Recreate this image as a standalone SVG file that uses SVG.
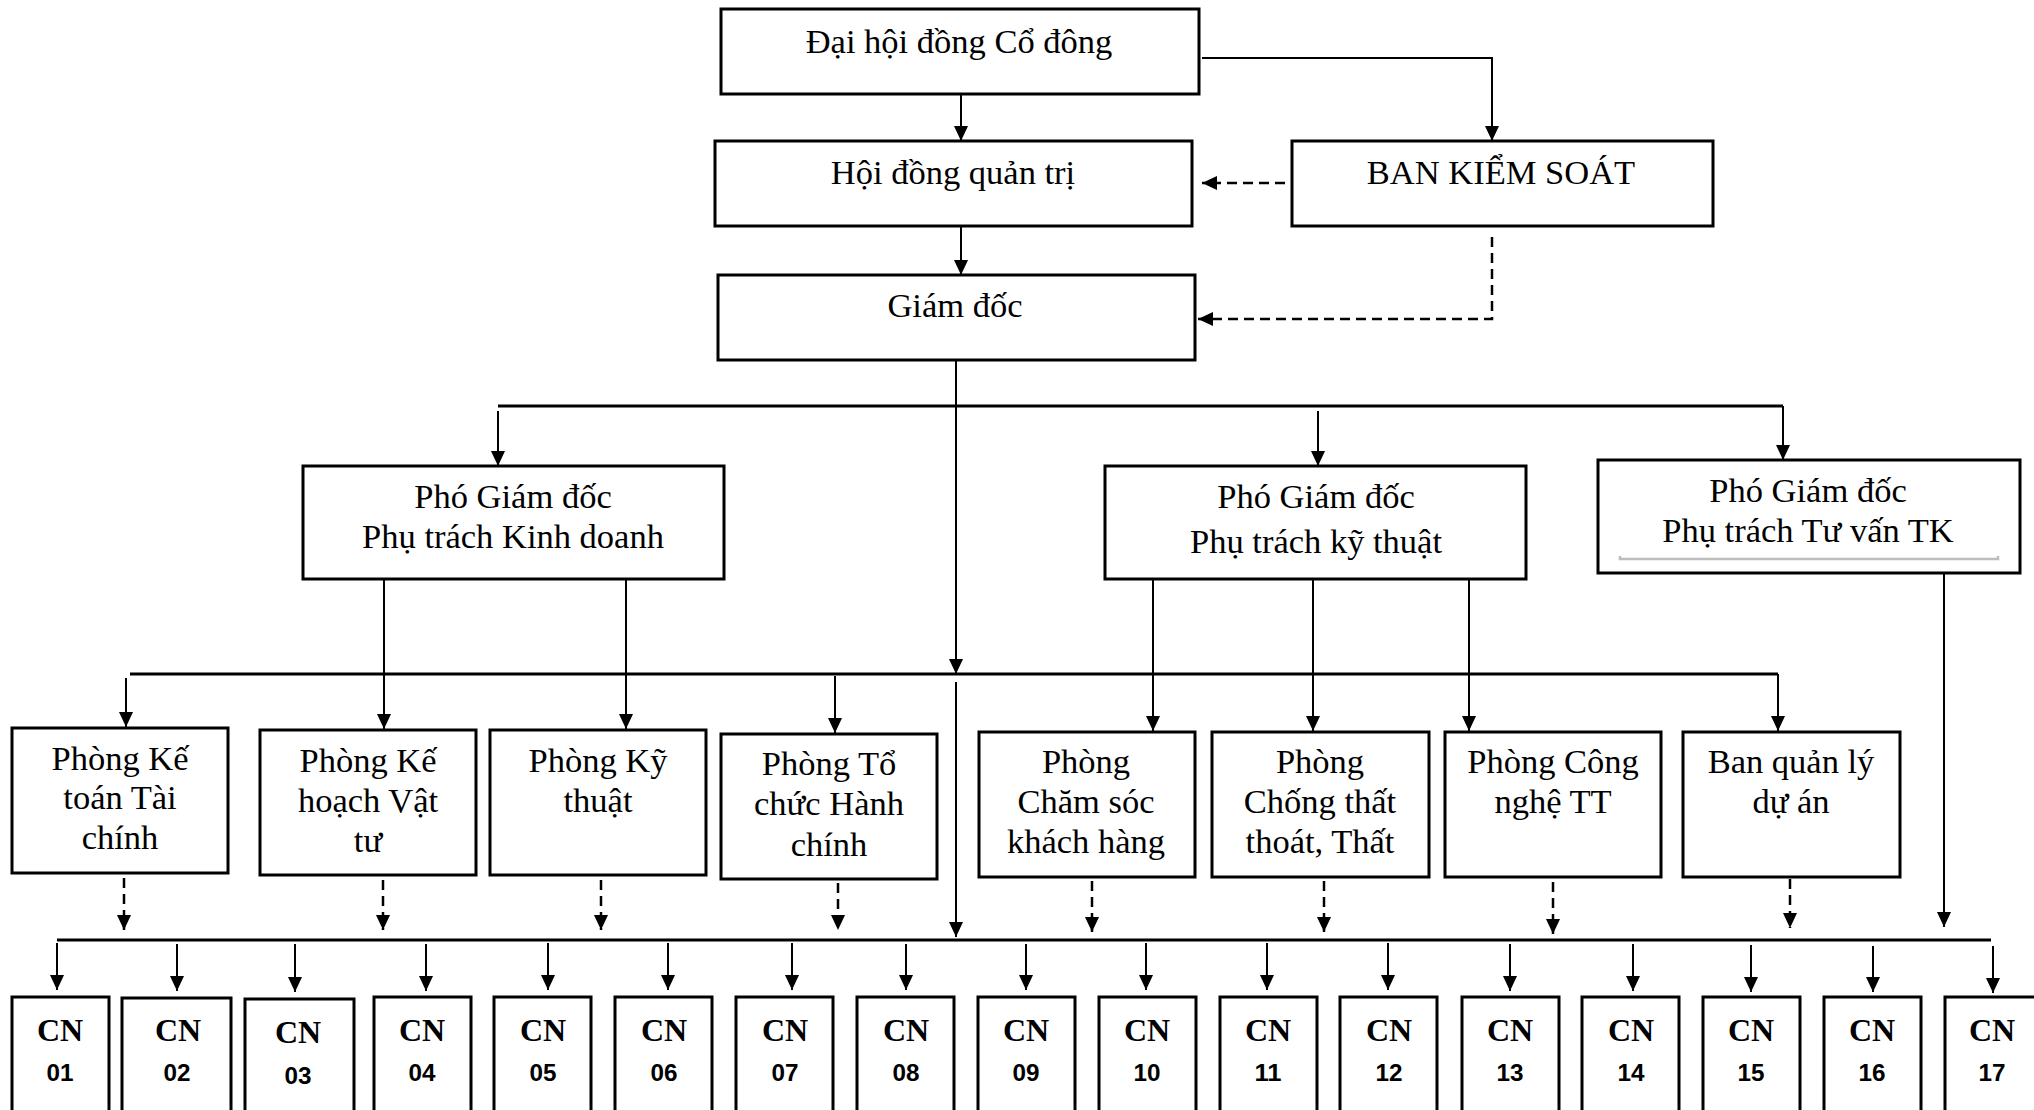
<svg xmlns="http://www.w3.org/2000/svg" width="2034" height="1110" viewBox="0 0 2034 1110">
<defs>
<style>
.box{fill:#fff;stroke:#000;stroke-width:3}
.t{font-family:"Liberation Serif","Times New Roman",serif;font-size:34.5px;text-anchor:middle;fill:#000}
.cn{font-family:"Liberation Serif","Times New Roman",serif;font-size:32px;font-weight:bold;text-anchor:middle;fill:#000}
.num{font-family:"Liberation Sans",Arial,sans-serif;font-size:24px;font-weight:bold;text-anchor:middle;fill:#000}
.ln{fill:none;stroke:#000;stroke-width:2}
.bus{fill:none;stroke:#000;stroke-width:3}
.ar{fill:none;stroke:#000;stroke-width:2;marker-end:url(#ah)}
.da{fill:none;stroke:#000;stroke-width:2.5;stroke-dasharray:10 6;marker-end:url(#ah)}
</style>
<marker id="ah" markerUnits="userSpaceOnUse" markerWidth="16" markerHeight="14" refX="15" refY="7" orient="auto">
<path d="M0,0 L15,7 L0,14 z" fill="#000"/>
</marker>
</defs>
<rect width="2034" height="1110" fill="#fff"/>

<g id="connectors">
<path class="ar" d="M961,94 V141"/>
<path class="ar" d="M1202,58 H1492 V141"/>
<path class="da" d="M1285,183 H1202"/>
<path class="da" d="M1492,237 V319 H1198"/>
<path class="ar" d="M961,226 V275"/>
<path class="ar" d="M956,360 V674"/>
<path class="ar" d="M956,682 V937"/>
<path class="bus" d="M498,406 H1783"/>
<path class="ar" d="M1783,406 V460"/>
<path class="ar" d="M498,411 V466"/>
<path class="ar" d="M1318,411 V466"/>
<path class="bus" d="M130,674 H1778"/>
<path class="ar" d="M1778,674 V731"/>
<path class="ar" d="M126,678 V727"/>
<path class="ar" d="M835,676 V733"/>
<path class="ar" d="M384,579 V729"/>
<path class="ar" d="M626,579 V729"/>
<path class="ar" d="M1153,579 V731"/>
<path class="ar" d="M1313,579 V731"/>
<path class="ar" d="M1469,579 V731"/>
<path class="ar" d="M1944,573 V927"/>
<path class="da" d="M124,878 V930"/>
<path class="da" d="M383,880 V930"/>
<path class="da" d="M601,880 V930"/>
<path class="da" d="M838,883 V930"/>
<path class="da" d="M1092,881 V932"/>
<path class="da" d="M1324,881 V932"/>
<path class="da" d="M1553,882 V934"/>
<path class="da" d="M1790,879 V928"/>
<path class="bus" d="M57,940 H1991"/>
<path class="ar" d="M57,943 V990"/>
<path class="ar" d="M177,944 V991"/>
<path class="ar" d="M295,944 V992"/>
<path class="ar" d="M426,944 V991"/>
<path class="ar" d="M548,943 V990"/>
<path class="ar" d="M668,943 V990"/>
<path class="ar" d="M792,943 V990"/>
<path class="ar" d="M906,944 V990"/>
<path class="ar" d="M1026,944 V990"/>
<path class="ar" d="M1146,943 V990"/>
<path class="ar" d="M1267,943 V990"/>
<path class="ar" d="M1388,943 V990"/>
<path class="ar" d="M1510,944 V991"/>
<path class="ar" d="M1633,944 V991"/>
<path class="ar" d="M1751,945 V992"/>
<path class="ar" d="M1873,946 V992"/>
<path class="ar" d="M1993,946 V993"/>
</g>

<g id="dhdcd"><rect class="box" x="721" y="9" width="478" height="85"/><text class="t" x="959" y="53">Đại hội đồng Cổ đông</text></g>
<g id="hdqt"><rect class="box" x="715" y="141" width="477" height="85"/><text class="t" x="953" y="184">Hội đồng quản trị</text></g>
<g id="bks"><rect class="box" x="1292" y="141" width="421" height="85"/><text class="t" x="1501" y="184">BAN KIỂM SOÁT</text></g>
<g id="gd"><rect class="box" x="718" y="275" width="477" height="85"/><text class="t" x="955" y="317">Giám đốc</text></g>

<g id="pgd-kd"><rect class="box" x="303" y="466" width="421" height="113"/><text class="t" x="513" y="508">Phó Giám đốc</text><text class="t" x="513" y="548">Phụ trách Kinh doanh</text></g>
<g id="pgd-kt"><rect class="box" x="1105" y="466" width="421" height="113"/><text class="t" x="1316" y="508">Phó Giám đốc</text><text class="t" x="1316" y="553">Phụ trách kỹ thuật</text></g>
<g id="pgd-tvtk"><rect class="box" x="1598" y="460" width="422" height="113"/><text class="t" x="1808" y="502">Phó Giám đốc</text><text class="t" x="1808" y="542">Phụ trách Tư vấn TK</text><path d="M1620,556 V559 H1998 V556" fill="none" stroke="#bdbdbd" stroke-width="2.5"/></g>

<g id="p-kttc"><rect class="box" x="12" y="728" width="216" height="145"/><text class="t" x="120" y="770">Phòng Kế</text><text class="t" x="120" y="809">toán Tài</text><text class="t" x="120" y="849">chính</text></g>
<g id="p-khvt"><rect class="box" x="260" y="730" width="216" height="145"/><text class="t" x="368" y="772">Phòng Kế</text><text class="t" x="368" y="812">hoạch Vật</text><text class="t" x="368" y="852">tư</text></g>
<g id="p-kythuat"><rect class="box" x="490" y="730" width="216" height="145"/><text class="t" x="598" y="772">Phòng Kỹ</text><text class="t" x="598" y="812">thuật</text></g>
<g id="p-tchc"><rect class="box" x="721" y="734" width="216" height="145"/><text class="t" x="829" y="775">Phòng Tổ</text><text class="t" x="829" y="815">chức Hành</text><text class="t" x="829" y="856">chính</text></g>
<g id="p-cskh"><rect class="box" x="979" y="732" width="216" height="145"/><text class="t" x="1086" y="773">Phòng</text><text class="t" x="1086" y="813">Chăm sóc</text><text class="t" x="1086" y="853">khách hàng</text></g>
<g id="p-ctt"><rect class="box" x="1212" y="732" width="217" height="145"/><text class="t" x="1320" y="773">Phòng</text><text class="t" x="1320" y="813">Chống thất</text><text class="t" x="1320" y="853">thoát, Thất</text></g>
<g id="p-cntt"><rect class="box" x="1445" y="732" width="216" height="145"/><text class="t" x="1553" y="773">Phòng Công</text><text class="t" x="1553" y="813">nghệ TT</text></g>
<g id="p-qlda"><rect class="box" x="1683" y="732" width="217" height="145"/><text class="t" x="1791" y="773">Ban quản lý</text><text class="t" x="1791" y="813">dự án</text></g>

<g id="cn01"><rect class="box" x="12" y="997" width="97" height="130"/><text class="cn" x="60" y="1041">CN</text><text class="num" x="60" y="1081" textLength="27" lengthAdjust="spacingAndGlyphs">01</text></g>
<g id="cn02"><rect class="box" x="122" y="998" width="109" height="130"/><text class="cn" x="178" y="1041">CN</text><text class="num" x="177" y="1081" textLength="27" lengthAdjust="spacingAndGlyphs">02</text></g>
<g id="cn03"><rect class="box" x="245" y="999" width="109" height="130"/><text class="cn" x="298" y="1043">CN</text><text class="num" x="298" y="1084" textLength="27" lengthAdjust="spacingAndGlyphs">03</text></g>
<g id="cn04"><rect class="box" x="374" y="997" width="97" height="130"/><text class="cn" x="422" y="1041">CN</text><text class="num" x="422" y="1081" textLength="27" lengthAdjust="spacingAndGlyphs">04</text></g>
<g id="cn05"><rect class="box" x="494" y="997" width="97" height="130"/><text class="cn" x="543" y="1041">CN</text><text class="num" x="543" y="1081" textLength="27" lengthAdjust="spacingAndGlyphs">05</text></g>
<g id="cn06"><rect class="box" x="615" y="997" width="97" height="130"/><text class="cn" x="664" y="1041">CN</text><text class="num" x="664" y="1081" textLength="27" lengthAdjust="spacingAndGlyphs">06</text></g>
<g id="cn07"><rect class="box" x="736" y="997" width="97" height="130"/><text class="cn" x="785" y="1041">CN</text><text class="num" x="785" y="1081" textLength="27" lengthAdjust="spacingAndGlyphs">07</text></g>
<g id="cn08"><rect class="box" x="857" y="997" width="97" height="130"/><text class="cn" x="906" y="1041">CN</text><text class="num" x="906" y="1081" textLength="27" lengthAdjust="spacingAndGlyphs">08</text></g>
<g id="cn09"><rect class="box" x="978" y="997" width="97" height="130"/><text class="cn" x="1026" y="1041">CN</text><text class="num" x="1026" y="1081" textLength="27" lengthAdjust="spacingAndGlyphs">09</text></g>
<g id="cn10"><rect class="box" x="1099" y="997" width="97" height="130"/><text class="cn" x="1147" y="1041">CN</text><text class="num" x="1147" y="1081" textLength="27" lengthAdjust="spacingAndGlyphs">10</text></g>
<g id="cn11"><rect class="box" x="1220" y="997" width="97" height="130"/><text class="cn" x="1268" y="1041">CN</text><text class="num" x="1268" y="1081" textLength="27" lengthAdjust="spacingAndGlyphs">11</text></g>
<g id="cn12"><rect class="box" x="1340" y="997" width="97" height="130"/><text class="cn" x="1389" y="1041">CN</text><text class="num" x="1389" y="1081" textLength="27" lengthAdjust="spacingAndGlyphs">12</text></g>
<g id="cn13"><rect class="box" x="1462" y="997" width="97" height="130"/><text class="cn" x="1510" y="1041">CN</text><text class="num" x="1510" y="1081" textLength="27" lengthAdjust="spacingAndGlyphs">13</text></g>
<g id="cn14"><rect class="box" x="1582" y="997" width="97" height="130"/><text class="cn" x="1631" y="1041">CN</text><text class="num" x="1631" y="1081" textLength="27" lengthAdjust="spacingAndGlyphs">14</text></g>
<g id="cn15"><rect class="box" x="1703" y="997" width="97" height="130"/><text class="cn" x="1751" y="1041">CN</text><text class="num" x="1751" y="1081" textLength="27" lengthAdjust="spacingAndGlyphs">15</text></g>
<g id="cn16"><rect class="box" x="1824" y="997" width="97" height="130"/><text class="cn" x="1872" y="1041">CN</text><text class="num" x="1872" y="1081" textLength="27" lengthAdjust="spacingAndGlyphs">16</text></g>
<g id="cn17"><rect class="box" x="1945" y="997" width="97" height="130"/><text class="cn" x="1992" y="1041">CN</text><text class="num" x="1992" y="1081" textLength="27" lengthAdjust="spacingAndGlyphs">17</text></g>
</svg>
